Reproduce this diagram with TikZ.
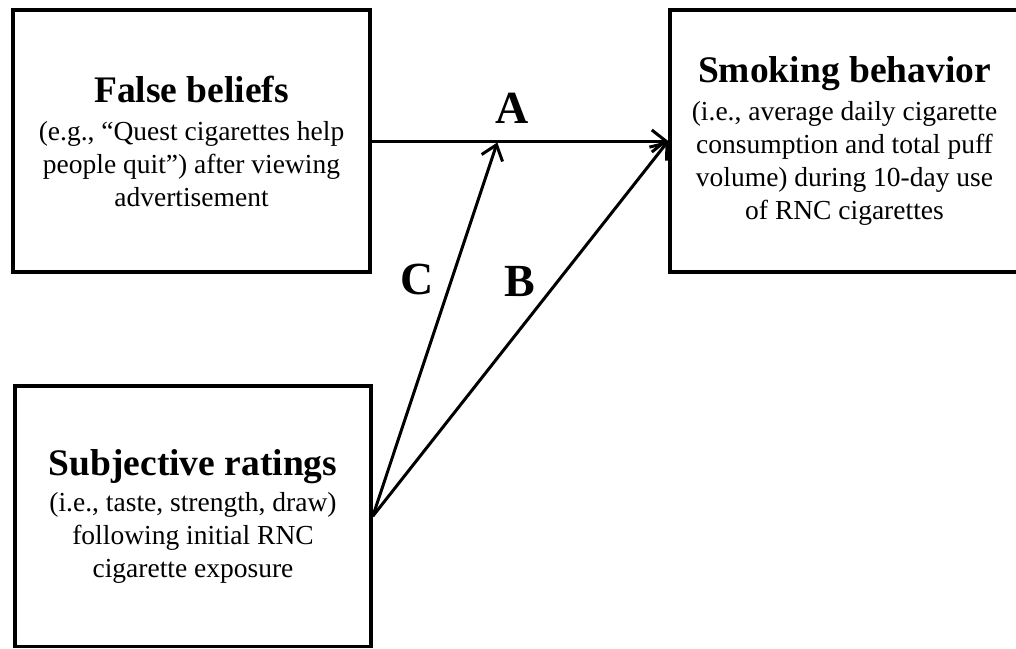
\documentclass[tikz,border=0pt]{standalone}
\usepackage{fontspec}
\setmainfont{Liberation Serif}
\usetikzlibrary{arrows.meta}
\newcommand{\ttlfont}{\fontsize{37.5}{40}\selectfont\bfseries}
\begin{document}
\begin{tikzpicture}[x=1pt,y=-1pt,
  box/.style={draw, line width=3.5pt, align=center, inner sep=0pt,
    font=\fontsize{27.5}{33}\selectfont},
  conn/.style={line width=3pt, -{Straight Barb[length=14pt,width=22pt,line width=3pt]}},
  lab/.style={font=\fontsize{46}{48}\selectfont\bfseries, inner sep=0pt}]
\useasboundingbox (0,0) rectangle (1016,648);
\node[box, minimum width=357pt, minimum height=262pt] (fb) at (191.5,141)
  {{\ttlfont False beliefs}\\[5pt]
   (e.g., “Quest cigarettes help\\
   people quit”) after viewing\\
   advertisement};
\node[box, minimum width=349pt, minimum height=262pt] (sb) at (844.5,141)
  {{\ttlfont Smoking behavior}\\[5pt]
   (i.e., average daily cigarette\\
   consumption and total puff\\
   volume) during 10-day use\\
   of RNC cigarettes};
\node[box, minimum width=356pt, minimum height=260.5pt] (sr) at (193,516.25)
  {{\ttlfont Subjective ratings}\\[3pt]
   (i.e., taste, strength, draw)\\
   following initial RNC\\
   cigarette exposure};
\path (fb.east) -- (sb.west) coordinate[pos=0.425] (ca);
\draw[conn] (fb.east) -- (sb.west);
\draw[conn, shorten >=1.5pt] (sr.east) -- (ca);
\draw[conn] (sr.east) -- (sb.west);
\node[lab] (la) at (512,108) {A};
\node[lab] (lc) at (417,279) {C};
\node[lab] (lb) at (520,282) {B};
\end{tikzpicture}
\end{document}
